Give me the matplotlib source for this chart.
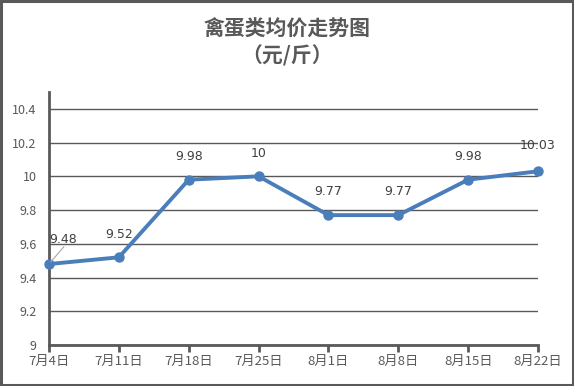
import matplotlib.pyplot as plt
from matplotlib.patches import Rectangle

plt.rcParams['font.family'] = ['Noto Sans CJK SC', 'DejaVu Sans']

# data
dates = ['7月4日', '7月11日', '7月18日', '7月25日', '8月1日', '8月8日', '8月15日', '8月22日']
prices = [9.48, 9.52, 9.98, 10, 9.77, 9.77, 9.98, 10.03]
labels = ['9.48', '9.52', '9.98', '10', '9.77', '9.77', '9.98', '10.03']
yticks = [9, 9.2, 9.4, 9.6, 9.8, 10, 10.2, 10.4]

grey = '#595959'
blue = '#4a7ebb'

fig = plt.figure(figsize=(5.74, 3.86), dpi=100)
ax = fig.add_axes([0.0854, 0.1062, 0.8519, 0.6555])

# outer frame of the chart
fig.patches.append(Rectangle((0.002, 0.003), 0.996, 0.994, transform=fig.transFigure,
                             fill=False, edgecolor=grey, linewidth=2.2))

x = list(range(len(dates)))
ax.plot(x, prices, color=blue, linewidth=2.8, marker='o', markersize=6.5, zorder=3,
        clip_on=False)

ax.set_xlim(0, len(dates) - 1)
ax.set_ylim(9, 10.5)
ax.set_yticks(yticks)
ax.set_yticklabels(['9', '9.2', '9.4', '9.6', '9.8', '10', '10.2', '10.4'])
ax.set_xticks(x)
ax.set_xticklabels(dates)

ax.grid(axis='y', color=grey, linewidth=1)
ax.set_axisbelow(True)
for s in ['top', 'right']:
    ax.spines[s].set_visible(False)
for s in ['left', 'bottom']:
    ax.spines[s].set_color(grey)
    ax.spines[s].set_linewidth(2)
ax.tick_params(axis='y', length=0, pad=9, labelsize=9, labelcolor=grey)
ax.tick_params(axis='x', length=5, width=2, color=grey, direction='out', pad=2,
               labelsize=9.5, labelcolor=grey)

# data labels
for i, (v, t) in enumerate(zip(prices, labels)):
    if i == 0:
        ax.annotate(t, xy=(i, v), xytext=(0, 13), textcoords='offset points',
                    fontsize=9, color='#404040', ha='left', va='bottom',
                    family='DejaVu Sans')
        ax.annotate('', xy=(i, v), xytext=(12, 14), textcoords='offset points',
                    arrowprops=dict(arrowstyle='-', color='#a6a6a6', lw=0.8))
    else:
        dy = 14 if i == len(prices) - 1 else 12
        ax.annotate(t, xy=(i, v), xytext=(0, dy), textcoords='offset points',
                    fontsize=9, color='#404040', ha='center', va='bottom',
                    family='DejaVu Sans')

fig.text(0.5, 0.925, '禽蛋类均价走势图', ha='center', va='center', fontsize=15,
         color=grey, weight='bold')
fig.text(0.5, 0.855, '（元/斤）', ha='center', va='center', fontsize=15,
         color=grey, weight='bold')

fig.savefig('out.png', dpi=100)
